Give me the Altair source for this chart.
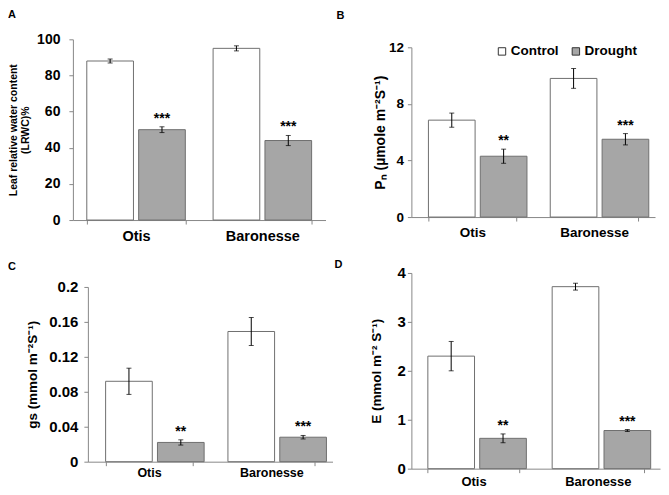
import altair as alt
import pandas as pd

cultivars = ["Otis", "Baronesse"]
treatments = ["Control", "Drought"]

# Panel A: leaf relative water content (%)
lrwc = [88, 50, 95, 44]
lrwc_err = [1.1, 1.6, 1.4, 2.8]
lrwc_sig = ["", "***", "", "***"]

# Panel B: PN
pn = [6.85, 4.3, 9.8, 5.5]
pn_err = [0.5, 0.5, 0.7, 0.4]
pn_sig = ["", "**", "", "***"]

# Panel C: gs
gs = [0.092, 0.022, 0.149, 0.028]
gs_err = [0.015, 0.003, 0.016, 0.002]
gs_sig = ["", "**", "", "***"]

# Panel D: E
e_vals = [2.3, 0.62, 3.72, 0.78]
e_err = [0.3, 0.09, 0.07, 0.02]
e_sig = ["", "**", "", "***"]

FONT = "Liberation Sans"


def make_df(vals, errs, sigs):
    rows = []
    i = 0
    for c in cultivars:
        for t in treatments:
            rows.append({"cultivar": c, "treatment": t, "value": vals[i],
                         "lo": vals[i] - errs[i], "hi": vals[i] + errs[i], "sig": sigs[i]})
            i += 1
    return pd.DataFrame(rows)


def panel(vals, errs, sigs, letter, ytitle, ymax, yticks, yfmt, width, height,
          xrange, yrange, pinner, poff, title_dx, title_offset, title_x, ylab_pad,
          ylab_size, ytitle_size, xlab_size, xlab_pad, x_off=0, y_off=0, legend=None):
    df = make_df(vals, errs, sigs)
    base = alt.Chart(df)
    x = alt.X("cultivar:N", sort=cultivars, title=None,
              scale=alt.Scale(range=xrange, paddingInner=pinner, paddingOuter=pinner / 2),
              axis=alt.Axis(labelAngle=0, tickBand="extent", labelFontSize=xlab_size,
                            labelPadding=xlab_pad, offset=x_off))
    xo = alt.XOffset("treatment:N", sort=treatments, scale=alt.Scale(paddingInner=poff))
    yscale = alt.Scale(domain=[0, ymax], range=yrange, nice=False, zero=True)
    yaxis = alt.Axis(values=yticks, format=yfmt, labelFontSize=ylab_size,
                     titleX=title_x, labelPadding=ylab_pad,
                     labelOverlap=False, titleFontSize=ytitle_size,
                     titleLineHeight=12, offset=y_off)
    y = alt.Y("value:Q", scale=yscale, title=ytitle, axis=yaxis)
    ylo = alt.Y("lo:Q", scale=yscale, title=ytitle, axis=yaxis)
    yhi = alt.Y("hi:Q", scale=yscale, title=ytitle, axis=yaxis)
    color = alt.Color("treatment:N", sort=treatments,
                      scale=alt.Scale(domain=treatments, range=["#ffffff", "#a6a6a6"]),
                      legend=legend)
    bars = base.mark_bar(stroke="#6f6f6f", strokeWidth=1).encode(x=x, xOffset=xo, y=y, color=color)
    rule = base.mark_rule(color="black", strokeWidth=1).encode(
        x=x, xOffset=xo, y=ylo, y2="hi:Q")
    cap_hi = base.mark_tick(color="black", thickness=1, size=5).encode(
        x=x, xOffset=xo, y=yhi)
    cap_lo = base.mark_tick(color="black", thickness=1, size=5).encode(
        x=x, xOffset=xo, y=ylo)
    txt = base.mark_text(baseline="bottom", dy=-1, fontSize=14, fontWeight="bold",
                         font=FONT, color="black").encode(
        x=x, xOffset=xo, y=yhi, text="sig:N")
    return alt.layer(bars, rule, cap_hi, cap_lo, txt).properties(
        width=width, height=height,
        title=alt.TitleParams(letter, anchor="start", frame="group", dx=title_dx,
                              offset=title_offset, fontSize=11, font=FONT,
                              fontWeight="bold", color="black"))


legB = alt.Legend(title=None, orient="none", legendX=84, legendY=5, direction="horizontal",
                  symbolType="square", symbolSize=55, symbolStrokeColor="#333333",
                  symbolStrokeWidth=1, labelFont=FONT, labelFontSize=13.5,
                  labelFontWeight="bold", labelColor="black", columnPadding=10,
                  labelOffset=2)

A = panel(lrwc, lrwc_err, lrwc_sig, "A", ["Leaf relative water content", "(LRWC)%"],
          100, [0, 20, 40, 60, 80, 100], "d", 260, 181, [0, 253], [181, 0],
          0.22, 0.1, -65, 11, -54, 9, 14, 10.5, 14.5, 5)
B = panel(pn, pn_err, pn_sig, "B", "Pₙ (µmole m⁻²S⁻¹)", 12, [0, 4, 8, 12], "d",
          250, 181, [0, 244], [178, 8], 0.28, 0.055, -75, 18, -24, 4, 13.5, 14, 13.5, 4,
          x_off=-3, legend=legB)
C = panel(gs, gs_err, gs_sig, "C", "gs (mmol m⁻²S⁻¹)", 0.2, [0, 0.04, 0.08, 0.12, 0.16, 0.2],
          ".2~f", 260, 196, [15, 260], [189, 14], 0.29, 0.1, -65, 1, -48, 6, 15, 13.5, 12.5, 1,
          x_off=-7, y_off=-15)
D = panel(e_vals, e_err, e_sig, "D", "E (mmol m⁻² S⁻¹)", 4, [0, 1, 2, 3, 4], "d",
          250, 196, [0, 249], [196, 0], 0.265, 0.076, -77, -4, -28, 2, 15, 13.5, 13, 3)

chart = alt.concat(
    A, B, C, D, columns=2, spacing={"row": 53, "column": 79}, bounds="flush", align="each"
).resolve_scale(color="independent").properties(
    padding={"left": 0, "top": 0, "right": 0, "bottom": 0}
).configure_view(
    stroke=None
).configure_axis(
    domainColor="#888888", tickColor="#888888", tickSize=4, grid=False,
    labelFont=FONT, labelFontWeight="bold", labelColor="black", labelOverlap=False,
    titleFont=FONT, titleFontWeight="bold", titleColor="black"
)

chart.save("out.html", embed_options={"renderer": "svg", "actions": False})
